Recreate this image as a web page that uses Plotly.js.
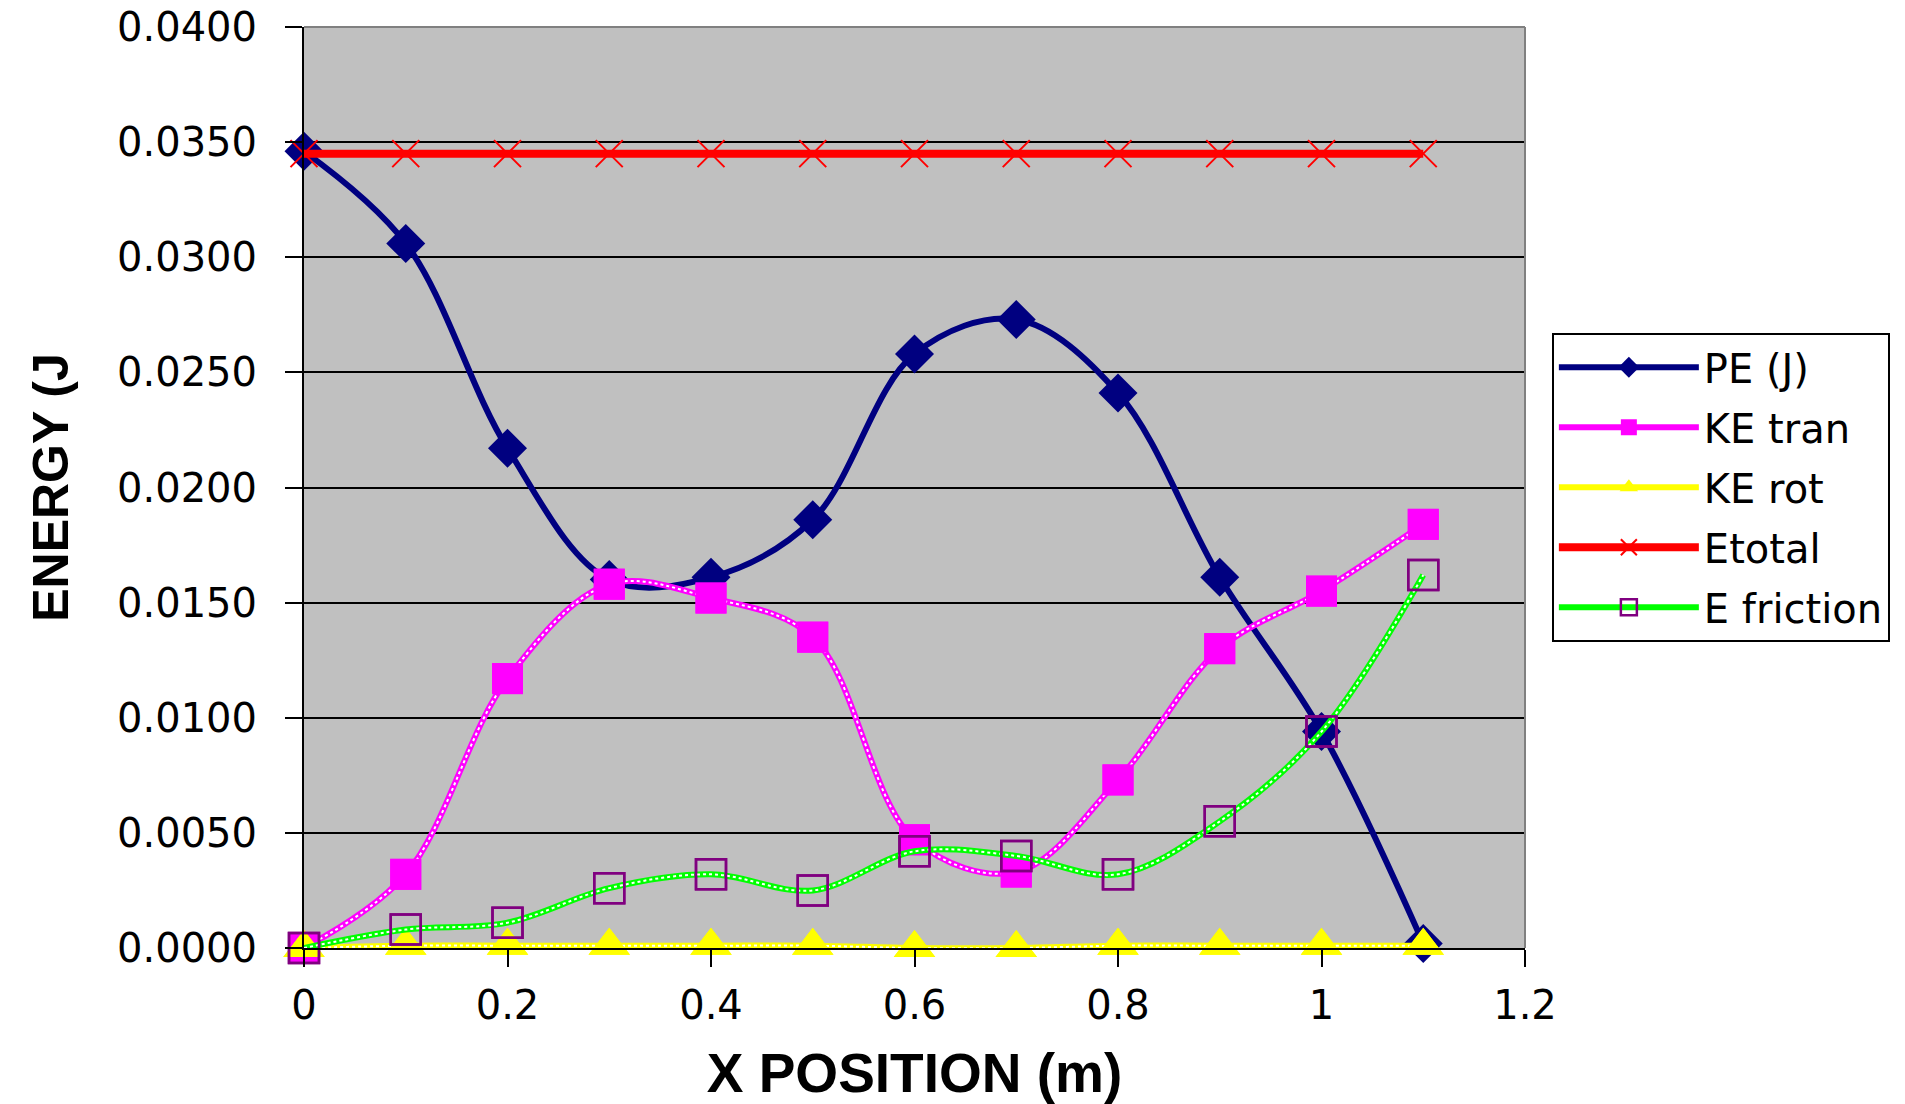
<!DOCTYPE html>
<html>
<head>
<meta charset="utf-8">
<script src="https://cdn.plot.ly/plotly-3.0.1.min.js"></script>
<style>html,body{margin:0;padding:0;background:#fff;}#chart{width:1905px;height:1104px;}</style>
</head>
<body>
<div id="chart"></div>
<script>
const xPos = [0, 0.1, 0.2, 0.3, 0.4, 0.5, 0.6, 0.7, 0.8, 0.9, 1.0, 1.1];
const pe = [0.0346, 0.0306, 0.0217, 0.0160, 0.0161, 0.0186, 0.0258, 0.0273, 0.0241, 0.0161, 0.0094, 0.0002];
const keTran = [0.0000, 0.0032, 0.0117, 0.0158, 0.0152, 0.0135, 0.0047, 0.0033, 0.0073, 0.0130, 0.0155, 0.0184];
const keRot = [0.0000, 0.0001, 0.0001, 0.0001, 0.0001, 0.0001, 0.0000, 0.0000, 0.0001, 0.0001, 0.0001, 0.0001];
const eTotal = [0.0345, 0.0345, 0.0345, 0.0345, 0.0345, 0.0345, 0.0345, 0.0345, 0.0345, 0.0345, 0.0345, 0.0345];
const eFriction = [0.0000, 0.0008, 0.0011, 0.0026, 0.0032, 0.0025, 0.0042, 0.0040, 0.0032, 0.0055, 0.0094, 0.0162];
const seriesNames = ['PE (J)', 'KE tran', 'KE rot', 'Etotal', 'E friction'];

const FONT = '"DejaVu Sans", Verdana, sans-serif';
const BOLD = '"Liberation Sans", Arial, sans-serif';
const traces = [];

// PE
traces.push({x: xPos, y: pe, name: seriesNames[0], legendgroup: 'g0', mode: 'lines+markers', type: 'scatter', cliponaxis: false,
  line: {color: '#000080', width: 6, shape: 'spline', smoothing: 1},
  marker: {symbol: 'diamond', size: 30, color: '#000080'}});

// chained series helper
function chained(y, name, group, lineColor, marker) {
  traces.push({x: xPos, y: y, name: name, legendgroup: group, mode: 'lines+markers', type: 'scatter', cliponaxis: false,
    line: {color: lineColor, width: 6, shape: 'spline', smoothing: 1}, marker: marker});
  traces.push({x: xPos, y: y, legendgroup: group, mode: 'lines', type: 'scatter', showlegend: false, hoverinfo: 'skip', cliponaxis: false,
    line: {color: '#ffffff', width: 2, dash: 'dot', shape: 'spline', smoothing: 1}});
  traces.push({x: xPos, y: y, legendgroup: group, mode: 'markers', type: 'scatter', showlegend: false, hoverinfo: 'skip', cliponaxis: false,
    marker: marker});
}
chained(keTran, seriesNames[1], 'g1', '#FF00FF', {symbol: 'square', size: 31, color: '#FF00FF'});
chained(keRot, seriesNames[2], 'g2', '#FFFF00', {symbol: 'triangle-up', size: 36, color: '#FFFF00'});

traces.push({x: xPos, y: eTotal, name: seriesNames[3], legendgroup: 'g3', mode: 'lines+markers', type: 'scatter', cliponaxis: false,
  line: {color: '#FF0000', width: 8},
  marker: {symbol: 'x-thin', size: 27, color: '#FF0000', line: {color: '#FF0000', width: 2}}});

chained(eFriction, seriesNames[4], 'g4', '#00FF00', {symbol: 'square-open', size: 30, color: '#800080', line: {color: '#800080', width: 2.5}});

const layout = {
  width: 1905, height: 1104,
  margin: {l: 304, r: 380, t: 27, b: 156, pad: 0},
  paper_bgcolor: '#ffffff',
  plot_bgcolor: '#C0C0C0',
  font: {family: FONT, color: '#000000'},
  showlegend: true,
  legend: {x: 1.022, y: 0.668, xanchor: 'left', yanchor: 'top',
    bgcolor: '#ffffff', bordercolor: '#000000', borderwidth: 2,
    font: {family: FONT, size: 40, color: '#000000'},
    traceorder: 'grouped', tracegroupgap: 5, itemwidth: 140},
  xaxis: {range: [0, 1.2], dtick: 0.2, tick0: 0, showgrid: false, zeroline: false,
    showline: true, linecolor: '#000000', linewidth: 2,
    ticks: 'outside', ticklen: 17, tickwidth: 2, tickcolor: '#000000', ticklabelstandoff: 4,
    tickfont: {family: FONT, size: 40, color: '#000000'},
    title: {text: '<b>X POSITION (m)</b>', font: {family: BOLD, size: 55, color: '#000000'}, standoff: 42}},
  yaxis: {range: [0, 0.04], dtick: 0.005, tick0: 0, tickformat: '.4f',
    showgrid: true, gridcolor: '#000000', gridwidth: 2, zeroline: false,
    showline: true, linecolor: '#000000', linewidth: 2,
    ticks: 'outside', ticklen: 17, tickwidth: 2, tickcolor: '#000000', ticklabelstandoff: 20,
    tickfont: {family: FONT, size: 40, color: '#000000'},
    title: {text: '<b>ENERGY (J</b>', font: {family: BOLD, size: 50, color: '#000000'}, standoff: 33}},
  shapes: [
    {type: 'line', xref: 'paper', yref: 'paper', x0: 0, x1: 1, y0: 1, y1: 1, line: {color: '#808080', width: 2}},
    {type: 'line', xref: 'paper', yref: 'paper', x0: 1, x1: 1, y0: 0, y1: 1, line: {color: '#808080', width: 2}}
  ]
};

Plotly.newPlot('chart', traces, layout, {displayModeBar: false, staticPlot: true});
</script>
</body>
</html>
